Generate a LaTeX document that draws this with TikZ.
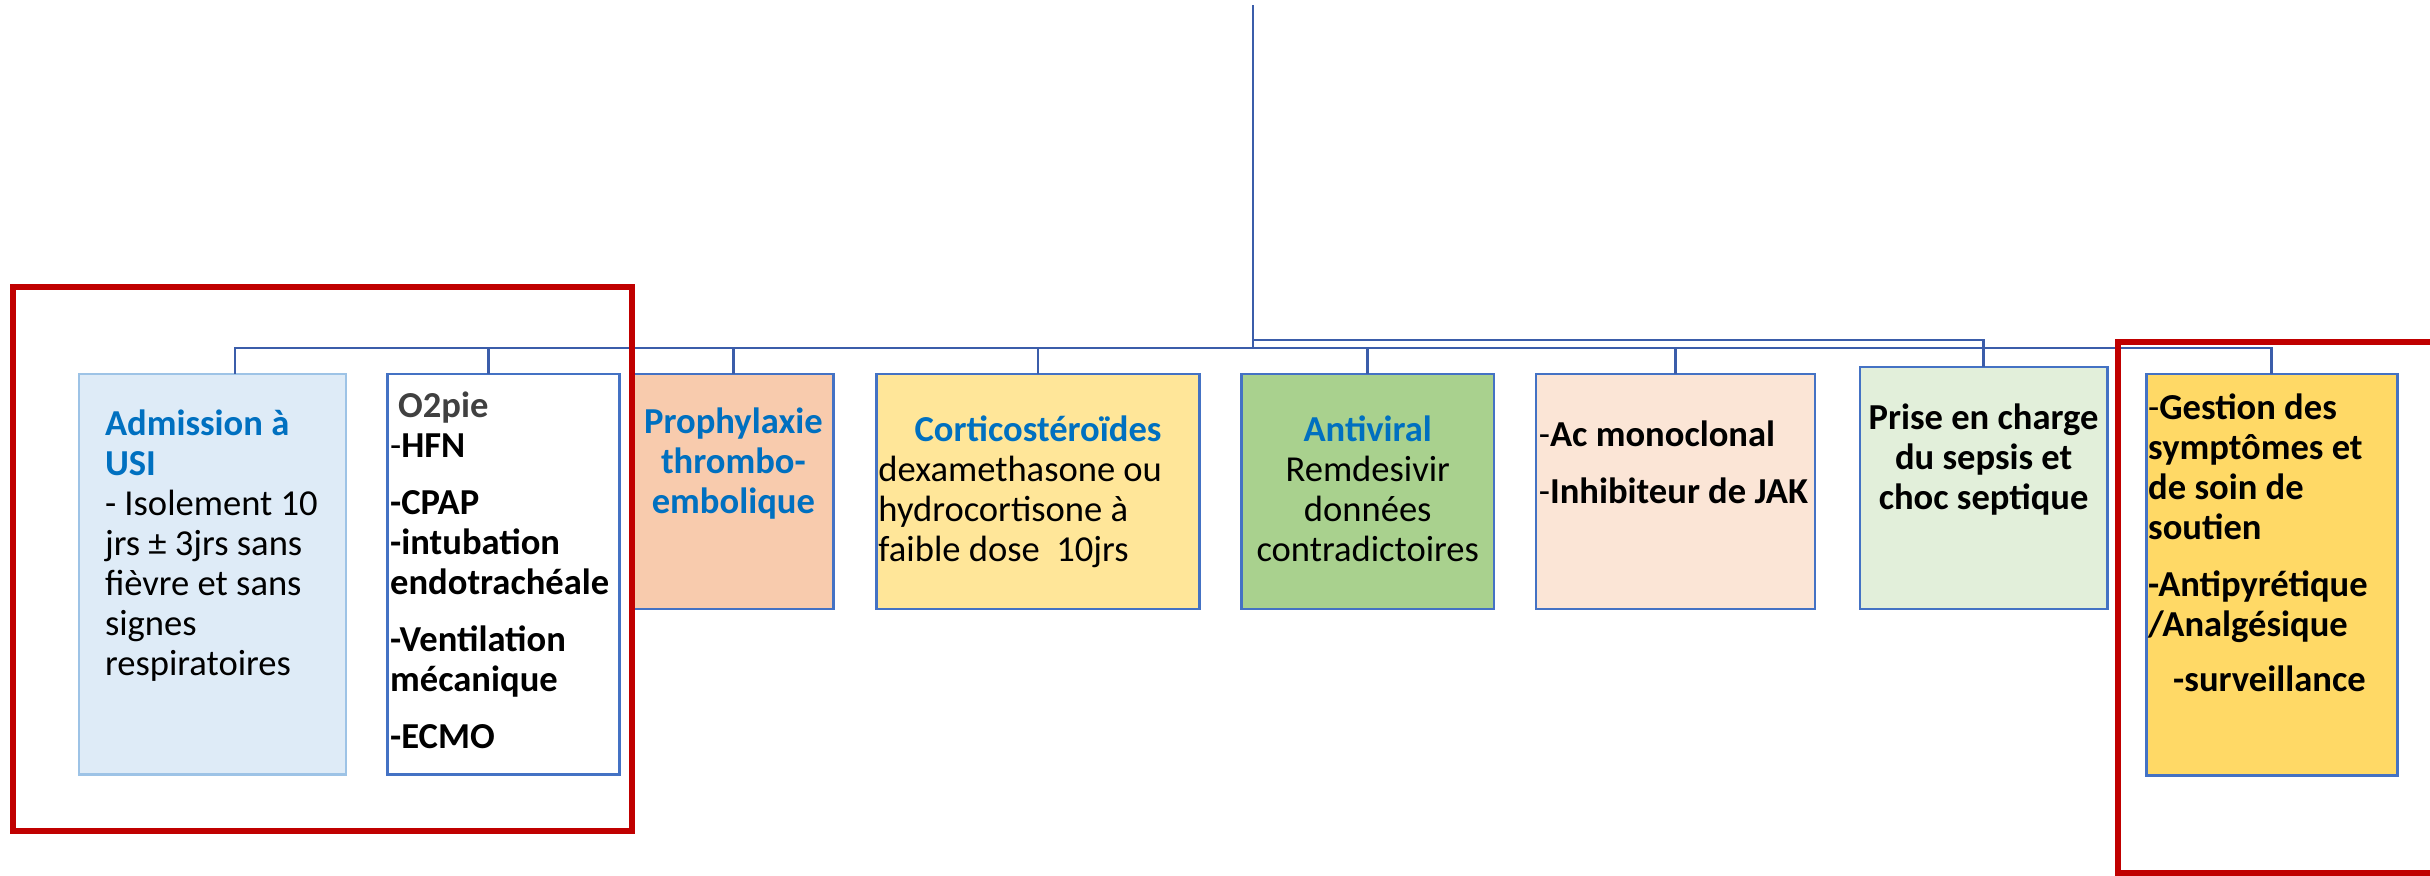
\documentclass[tikz,border=0pt]{standalone}
\usepackage{fontspec}
\setmainfont{Carlito}
\usepackage{tikz}
\usetikzlibrary{positioning}

\definecolor{bleuTitre}{HTML}{0070C0}
\definecolor{bleuCadre}{HTML}{4472C4}
\definecolor{bleuLien}{HTML}{3B5DAA}
\definecolor{bleuPale}{HTML}{DEEBF7}
\definecolor{bleuBord}{HTML}{9DC3E6}
\definecolor{peche}{HTML}{F8CBAD}
\definecolor{jaunePale}{HTML}{FFE699}
\definecolor{vertMoyen}{HTML}{A9D18E}
\definecolor{rosePale}{HTML}{FBE5D6}
\definecolor{vertPale}{HTML}{E2EFDA}
\definecolor{jauneOr}{HTML}{FFD966}
\definecolor{grisFonce}{HTML}{404040}
\definecolor{rougeFonce}{HTML}{C00000}

\newcommand{\cadre}[4]{\parbox[c][#2][t]{#1}{\vspace*{#3}#4}}
\newcommand{\titre}[1]{{\color{bleuTitre}\bfseries #1}}

\tikzset{
  boite/.style={rectangle, draw=bleuCadre, line width=0.75pt, inner sep=0pt, outer sep=0pt,
                anchor=north west, font=\fontsize{10.4}{11.4}\selectfont},
  lien/.style={draw=bleuLien, line width=0.75pt},
  rouge/.style={draw=rougeFonce, line width=1.6pt}
}

\begin{document}
\begin{tikzpicture}[x=0.01cm, y=-0.01cm]
  \useasboundingbox (0,0) rectangle (2430,875);
  % les huit volets de la prise en charge
  \node[boite, fill=bleuPale, draw=bleuBord, inner xsep=0.26cm] (adm) at (79,374)
    {\cadre{2.15cm}{4cm}{0.33cm}{\raggedright\strut\titre{Admission à}\\ \titre{USI}\\
      - Isolement 10\\ jrs ± 3jrs sans\\ fièvre et sans\\ signes\\ respiratoires}};
  \node[boite, fill=white, inner xsep=0.03cm, right=0.41cm of adm.north east, anchor=north west] (o2)
    {\cadre{2.26cm}{4cm}{0.15cm}{\raggedright\strut\hspace{0.08cm}{\color{grisFonce}\bfseries O2pie}\\
      -\textbf{HFN}\\[0.17cm] \textbf{-CPAP}\\ \textbf{-intubation}\\ \textbf{endotrachéale}\\[0.17cm]
      \textbf{-Ventilation}\\ \textbf{mécanique}\\[0.17cm] \textbf{-ECMO}}};
  \node[boite, fill=peche, right=0.14cm of o2.north east, anchor=north west] (pro)
    {\cadre{2cm}{2.35cm}{0.31cm}{\centering\strut\titre{Prophylaxie}\\ \titre{thrombo-}\\ \titre{embolique}}};
  \node[boite, fill=jaunePale, inner xsep=0.02cm, right=0.43cm of pro.north east, anchor=north west] (cor)
    {\cadre{3.19cm}{2.35cm}{0.39cm}{{\centering\strut\titre{Corticostéroïdes}\par}
      \raggedright dexamethasone ou\\ hydrocortisone à\\ faible dose\ \ 10jrs}};
  \node[boite, fill=vertMoyen, right=0.42cm of cor.north east, anchor=north west] (anv)
    {\cadre{2.52cm}{2.35cm}{0.39cm}{\centering\strut\titre{Antiviral}\\ Remdesivir\\ données\\ contradictoires}};
  \node[boite, fill=rosePale, inner xsep=0.03cm, right=0.42cm of anv.north east, anchor=north west] (ac)
    {\cadre{2.73cm}{2.35cm}{0.44cm}{\raggedright\strut-\textbf{Ac monoclonal}\\[0.17cm] -\textbf{Inhibiteur de JAK}}};
  \node[boite, fill=vertPale, right=0.45cm of ac.north east, anchor=north west, yshift=0.07cm] (pri)
    {\cadre{2.47cm}{2.42cm}{0.34cm}{\centering\bfseries\strut Prise en charge\\ du sepsis et\\ choc septique}};
  \node[boite, fill=jauneOr, inner xsep=0.02cm, right=0.39cm of pri.north east, anchor=north west, yshift=-0.07cm] (ges)
    {\cadre{2.47cm}{4.01cm}{0.17cm}{\raggedright\strut-\textbf{Gestion des}\\ \textbf{symptômes et}\\
      \textbf{de soin de}\\ \textbf{soutien}\\[0.17cm] \textbf{-Antipyrétique}\\ \textbf{/Analgésique}\\[0.15cm]
      \hspace*{0.25cm}\textbf{-surveillance}}};

  % organigramme
  \coordinate (sommet) at (1253,5);
  \coordinate (jonction) at (1253,348);
  \coordinate (derivation) at (1253,340);
  \draw[lien] (sommet) -- (jonction);
  \draw[lien] (jonction) -| ([xshift=0.225cm]adm.north);
  \draw[lien] (jonction) -| ([xshift=-0.15cm]o2.north);
  \draw[lien] (jonction) -| (pro.north);
  \draw[lien] (jonction) -| (cor.north);
  \draw[lien] (jonction) -| (anv.north);
  \draw[lien] (jonction) -| (ac.north);
  \draw[lien] (jonction) -| (ges.north);
  \draw[lien] (derivation) -| (pri.north);

  % encadrements rouges
  \draw[rouge] (13,287) rectangle (632,831);
  \draw[rouge] (2118,342) rectangle (2460,873);
\end{tikzpicture}
\end{document}
